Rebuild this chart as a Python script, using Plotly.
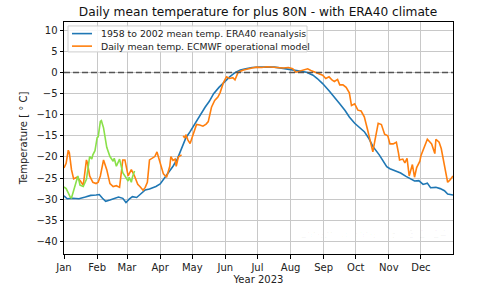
import pandas as pd
import plotly.graph_objects as go

# ---- data (day-of-year offsets from 1 Jan, temperature in deg C) ----
clim_days = [0, 3, 8, 14, 20, 25, 30, 33, 36, 39, 43, 47, 51, 55, 58, 61, 64, 68, 72, 76,
             80, 86, 90, 94, 98, 102, 106, 110, 114, 118, 122, 127, 132, 136, 140, 145, 150,
             155, 160, 165, 170, 176, 183, 190, 197, 205, 215, 222, 227, 233, 237, 242, 248,
             255, 258, 263, 267, 272, 276, 281, 285, 289, 295, 299, 302, 305, 310, 315, 320,
             324, 328, 332, 336, 340, 343, 348, 352, 356, 359, 364]
clim_temp = [-29.2, -29.9, -29.8, -29.9, -29.5, -29.1, -29.0, -28.9, -29.8, -30.5, -30.2,
             -29.8, -29.5, -29.8, -30.8, -30.0, -29.4, -29.6, -28.8, -27.8, -27.6, -27.0,
             -26.4, -25.0, -23.8, -22.2, -20.5, -18.0, -15.5, -14.0, -12.3, -10.2, -8.2,
             -6.8, -5.0, -3.5, -2.2, -1.0, 0.0, 0.6, 0.9, 1.2, 1.3, 1.35, 1.3, 1.0, 0.5,
             0.3, 0.1, -0.6, -1.4, -2.6, -4.3, -6.3, -7.4, -9.0, -10.5, -12.0, -13.0,
             -14.0, -15.5, -17.5, -19.5, -21.0, -22.3, -22.8, -23.3, -23.8, -24.6, -25.2,
             -25.7, -25.6, -26.5, -26.2, -27.3, -27.2, -27.5, -28.0, -28.8, -29.0]

# 2023 operational model (None marks a data gap)
op_days = [0, 2, 4, 5, 7, 9, 12, 15, 18, 21, 22, 24, 27, 30, 32, 34, 37, 40, 43, 46, 49, 52,
           55, 57, 60, 63, 66, 69, 71, 74, 76, 78, 80, 83, 85, 87, 90, 93, 96, 99, 100, 102,
           104, 105, 107, 110, 110.7, 111.5, 113, 114, 116, 118, 121, 124, 127, 130, 133,
           135, 138, 141, 144, 146, 149, 152, 155, 158, 160, 163, 168, 172, 176, 180, 185,
           190, 195, 200, 205, 210, 214, 217, 221, 224, 228, 231, 234, 239, 242, 245, 248,
           251, 253, 256, 258, 261, 264, 267, 269, 272, 275, 278, 281, 284, 286, 288, 289,
           291, 294, 297, 300, 303, 305, 308, 311, 313, 314, 317, 319, 321, 323, 326, 328,
           330, 333, 334, 337, 340, 344, 347, 348, 351, 353, 356, 359, 361, 364]
op_temp = [-22.6, -21.5, -18.4, -19.0, -23.0, -25.2, -24.8, -25.6, -26.7, -20.7, -21.5,
           -24.5, -26.0, -26.3, -26.0, -24.5, -20.7, -23.0, -26.3, -27.0, -26.8, -27.2,
           -20.7, -20.7, -24.5, -23.0, -24.5, -26.5, -27.0, -27.9, -27.2, -26.0, -20.7,
           -20.2, -19.9, -18.8, -21.3, -24.0, -24.8, -22.2, -19.9, -20.8, -20.5, -22.2,
           -20.0, -19.5, None, -15.0, -15.5, -14.7, -16.0, -16.8, -14.5, -12.3, -12.4,
           -12.7, -12.2, -11.6, -8.2, -6.6, -5.8, -4.8, -2.5, -1.0, -1.4, -1.2, -1.7, 0.1,
           0.6, 0.9, 1.1, 1.3, 1.2, 1.4, 1.3, 1.2, 1.1, 1.2, 0.9, 0.1, 0.4, 0.7, 0.9, 0.5,
           0.2, -0.2, -0.6, -1.4, -1.0, -1.8, -2.1, -1.6, -2.9, -2.9, -3.5, -4.8, -7.8,
           -7.4, -8.9, -9.1, -10.5, -13.5, -15.8, -17.3, -18.8, -16.0, -12.0, -12.3, -14.6,
           -15.0, -16.9, -16.9, -16.5, -19.1, -20.7, -20.5, -21.4, -20.3, -24.5, -21.8,
           -24.8, -22.5, -21.0, -19.7, -17.5, -15.8, -16.9, -19.2, -15.8, -16.5, -18.0,
           -22.2, -26.0, -25.5, -24.5]

# 2024 (so far) operational model
new_days = [0, 2, 4, 6, 7, 9, 11, 13, 15, 18, 21, 23, 24, 26, 27, 29, 31, 32, 33, 34, 35,
            37, 40, 43, 46, 47, 49, 52, 55, 57, 59, 60, 61, 63, 64, 66]
new_temp = [-27.1, -27.5, -28.5, -29.6, -29.7, -28.0, -26.5, -24.5, -26.7, -27.0, -25.3,
            -21.5, -19.9, -20.5, -19.5, -18.5, -15.4, -15.2, -13.5, -11.6, -11.4, -13.1,
            -17.7, -19.9, -21.0, -20.3, -22.2, -20.5, -23.7, -24.5, -25.6, -25.7, -24.8,
            -26.0, -24.8, -23.3]

month_labels = ["Jan", "Feb", "Mar", "Apr", "May", "Jun", "Jul", "Aug", "Sep", "Oct", "Nov", "Dec"]
y_ticks = [-40, -35, -30, -25, -20, -15, -10, -5, 0, 5, 10]
legend_labels = ["1958 to 2002 mean temp. ERA40 reanalysis",
                 "Daily mean temp. ECMWF operational model"]

start = pd.Timestamp("2023-01-01")


def to_dates(days):
    return [start + pd.Timedelta(days=d) for d in days]


month_ticks = [pd.Timestamp(2023, m, 1) for m in range(1, 13)]

FONT = "DejaVu Sans"
BLUE, ORANGE, GREEN = "#1f77b4", "#ff7f0e", "#8ae04a"

fig = go.Figure()
fig.add_trace(go.Scatter(x=to_dates(clim_days), y=clim_temp, mode="lines",
                         line=dict(color=BLUE, width=1.6), name=legend_labels[0]))
fig.add_trace(go.Scatter(x=to_dates(op_days), y=op_temp, mode="lines",
                         line=dict(color=ORANGE, width=1.6), connectgaps=False,
                         name=legend_labels[1]))
fig.add_trace(go.Scatter(x=to_dates(new_days), y=new_temp, mode="lines",
                         line=dict(color=GREEN, width=1.6)))

fig.add_shape(type="line", xref="paper", x0=0, x1=1, yref="y", y0=0, y1=0,
              line=dict(color="#555555", width=1.5, dash="6px,3px"), layer="above")

# legend box (matplotlib-style, drawn as layout decoration)
fig.add_shape(type="rect", xref="paper", yref="paper", x0=0.0103, x1=0.6247,
              y0=0.871, y1=0.983, line=dict(color="#d0d0d0", width=1),
              fillcolor="rgba(255,255,255,0.85)", layer="above")
for i, (lab, col) in enumerate(zip(legend_labels, [BLUE, ORANGE])):
    yy = 0.950 - i * 0.054
    fig.add_shape(type="line", xref="paper", yref="paper", x0=0.0206, x1=0.072,
                  y0=yy, y1=yy, line=dict(color=col, width=1.6), layer="above")
    fig.add_annotation(text=lab, xref="paper", yref="paper", x=0.089, y=yy,
                       xanchor="left", yanchor="middle", showarrow=False,
                       font=dict(family=FONT, size=9.3, color="#222222"))

fig.add_annotation(text="Latest update: 08/03/2024", xref="paper", yref="paper",
                   x=0.99, y=0.083, xanchor="right", yanchor="middle", showarrow=False,
                   font=dict(family=FONT, size=11, color="rgba(0,0,0,0.03)"))

fig.update_layout(
    width=500, height=296,
    margin=dict(l=64, r=47, t=22, b=33),
    paper_bgcolor="white", plot_bgcolor="white",
    font=dict(family=FONT, size=10, color="#222222"),
    title=dict(text="Daily mean temperature for plus 80N - with ERA40 climate",
               x=0.516, xanchor="center", y=0.96, yanchor="middle",
               font=dict(family=FONT, size=12.2, color="#111111")),
    showlegend=False,
)

fig.update_xaxes(range=[start, start + pd.Timedelta(days=364)],
                 tickvals=month_ticks, ticktext=month_labels,
                 showgrid=True, gridcolor="#c8c8c8", gridwidth=1,
                 showline=True, linecolor="black", linewidth=1, mirror=True,
                 ticks="outside", ticklen=3.5, tickcolor="black",
                 tickfont=dict(size=10),
                 title=dict(text="Year 2023", font=dict(size=10), standoff=4),
                 zeroline=False)
fig.update_yaxes(range=[-43, 12], tickvals=y_ticks,
                 showgrid=True, gridcolor="#c8c8c8", gridwidth=1,
                 showline=True, linecolor="black", linewidth=1, mirror=True,
                 ticks="outside", ticklen=3.5, tickcolor="black",
                 tickfont=dict(size=10),
                 title=dict(text="Temperature [ ° C]", font=dict(size=10), standoff=6),
                 zeroline=False)

fig.write_html("out.html")
